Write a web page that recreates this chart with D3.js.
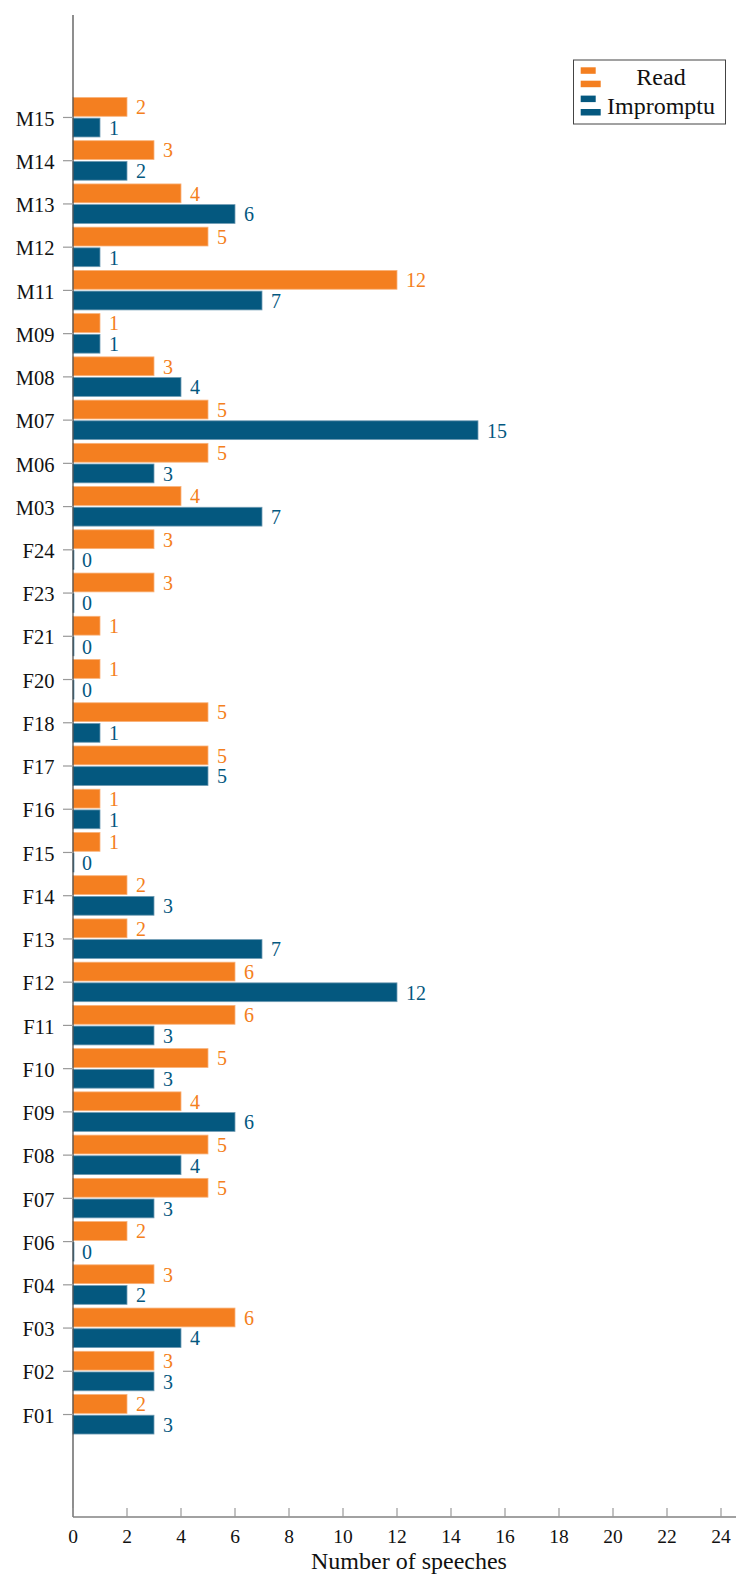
<!DOCTYPE html>
<html><head><meta charset="utf-8">
<script src="https://cdn.jsdelivr.net/npm/d3@7"></script>
<style>body{margin:0;background:#fff}svg{display:block}</style>
</head><body>
<div id="chart"></div>
<script>
const categories = ["M15","M14","M13","M12","M11","M09","M08","M07","M06","M03","F24","F23","F21","F20","F18","F17","F16","F15","F14","F13","F12","F11","F10","F09","F08","F07","F06","F04","F03","F02","F01"];
const readValues =      [2,3,4,5,12,1,3,5,5,4,3,3,1,1,5,5,1,1,2,2,6,6,5,4,5,5,2,3,6,3,2];
const impromptuValues = [1,2,6,1,7,1,4,15,3,7,0,0,0,0,1,5,1,0,3,7,12,3,3,6,4,3,0,2,4,3,3];
const seriesNames = ["Read","Impromptu"];
const xTicks = [0,2,4,6,8,10,12,14,16,18,20,22,24];
const colors = {Read:"#f47f20", Impromptu:"#04587f"};
const strokes = {Read:"#f9b27a", Impromptu:"#6f9bb3"};
const FONT = "Liberation Serif, Tinos, Times New Roman, DejaVu Serif, serif";

const W = 736, H = 1581;
const svg = d3.select("#chart").append("svg").attr("width", W).attr("height", H)
  .attr("font-family", FONT);

const x = d3.scaleLinear().domain([0,24]).range([73, 721]);
const y = d3.scalePoint().domain(categories).range([15, 1517]).padding(2.37);
const sub = d3.scaleBand().domain(seriesNames).range([-20, 19.5]).paddingInner(0.09);

const rows = categories.map((c,i)=>({cat:c, Read:readValues[i], Impromptu:impromptuValues[i]}));

// bars
const g = svg.append("g");
seriesNames.forEach(s=>{
  g.selectAll(null).data(rows).enter().append("rect")
    .attr("x", x(0))
    .attr("y", d=>y(d.cat)+sub(s))
    .attr("width", d=>Math.max(x(d[s])-x(0), 1))
    .attr("height", sub.bandwidth())
    .attr("fill", colors[s])
    .attr("stroke", strokes[s]).attr("stroke-width", 0.8);
  g.selectAll(null).data(rows).enter().append("text")
    .attr("x", d=>x(d[s])+9)
    .attr("y", d=>y(d.cat)+sub(s)+sub.bandwidth()/2+7.3)
    .attr("fill", colors[s])
    .attr("font-size", 20)
    .text(d=>d[s]);
});

// y axis
svg.append("line").attr("x1",73).attr("x2",73).attr("y1",15).attr("y2",1517).attr("stroke","#444").attr("stroke-width",1.2);
const yt = svg.append("g");
yt.selectAll(null).data(categories).enter().append("line")
  .attr("x1",63).attr("x2",73).attr("y1",d=>y(d)).attr("y2",d=>y(d)).attr("stroke","#999").attr("stroke-width",1.2);
yt.selectAll(null).data(categories).enter().append("text")
  .attr("x",54.5).attr("y",d=>y(d)+8.2).attr("text-anchor","end").attr("font-size",20.5).attr("fill","#111").text(d=>d);

// x axis
svg.append("line").attr("x1",73).attr("x2",736).attr("y1",1517).attr("y2",1517).attr("stroke","#444").attr("stroke-width",1.2);
const xt = svg.append("g");
xt.selectAll(null).data(xTicks).enter().append("line")
  .attr("x1",d=>x(d)).attr("x2",d=>x(d)).attr("y1",1508).attr("y2",1517).attr("stroke","#999").attr("stroke-width",1.2);
xt.selectAll(null).data(xTicks).enter().append("text")
  .attr("x",d=>x(d)).attr("y",1543).attr("text-anchor","middle").attr("font-size",19.5).attr("fill","#111").text(d=>d);
svg.append("text").attr("x",409).attr("y",1569).attr("text-anchor","middle").attr("font-size",24).attr("fill","#111").text("Number of speeches");

// legend
const lg = svg.append("g");
lg.append("rect").attr("x",573.5).attr("y",60).attr("width",152).attr("height",64).attr("fill","#fff").attr("stroke","#444").attr("stroke-width",1);
seriesNames.forEach((s,i)=>{
  const oy = i*28.3;
  lg.append("rect").attr("x",580.7).attr("y",67.3+oy).attr("width",15).attr("height",6.5).attr("fill",colors[s]);
  lg.append("rect").attr("x",580.7).attr("y",80.7+oy).attr("width",20).attr("height",6.5).attr("fill",colors[s]);
  lg.append("text").attr("x",661).attr("y",85+oy+(i?0.5:0)).attr("text-anchor","middle").attr("font-size",24).attr("fill","#111").text(s);
});
</script>
</body></html>
